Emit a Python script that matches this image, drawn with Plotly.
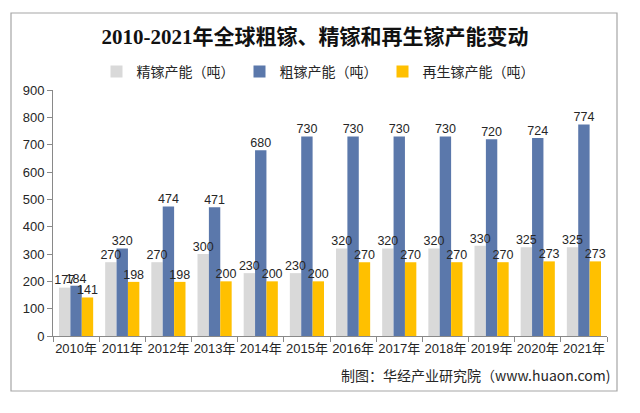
import plotly.graph_objects as go

years = ["2010年", "2011年", "2012年", "2013年", "2014年", "2015年",
         "2016年", "2017年", "2018年", "2019年", "2020年", "2021年"]
refined = [177, 270, 270, 300, 230, 230, 320, 320, 320, 330, 325, 325]
crude = [184, 320, 474, 471, 680, 730, 730, 730, 730, 720, 724, 774]
recycled = [141, 198, 198, 200, 200, 200, 270, 270, 270, 270, 273, 273]

names = ["精镓产能（吨）", "粗镓产能（吨）", "再生镓产能（吨）"]
colors = ["#D9D9D9", "#5B78AB", "#FFC000"]
series = [refined, crude, recycled]

W, H = 640, 413
L, R, T, B = 53, 33, 90, 77
pw, ph = W - L - R, H - T - B

def px(x):
    return (x - L) / pw

def py(y):
    return (H - B - y) / ph

fig = go.Figure()
for i, (n, c, v) in enumerate(zip(names, colors, series)):
    fig.add_trace(go.Bar(
        x=years, y=v, name=n, marker_color=c, marker_line_width=0,
        offsetgroup=str(i), cliponaxis=False,
    ))
for i, v in enumerate(series):
    fig.add_trace(go.Scatter(
        x=years, y=v, mode="text", text=[str(t) for t in v],
        textposition="top center", offsetgroup=str(i), showlegend=False,
        textfont=dict(size=12.5, color="#262626", family="Liberation Sans, Arial"),
        cliponaxis=False, hoverinfo="skip",
    ))

fig.update_layout(
    width=W, height=H,
    margin=dict(l=L, r=R, t=T, b=B),
    paper_bgcolor="white", plot_bgcolor="white",
    barmode="group", scattermode="group", bargap=0.26, bargroupgap=0,
    font=dict(family="Liberation Sans, Noto Sans CJK SC", size=13, color="#262626"),
    title=dict(
        text="<b>2010-2021年全球粗镓、精镓和再生镓产能变动</b>",
        x=315 / W, xanchor="center", xref="container",
        y=1 - 37 / H, yanchor="middle", yref="container",
        font=dict(family="Liberation Serif, Noto Sans CJK SC", size=21, color="#111111"),
    ),
    legend=dict(
        orientation="h", x=px(311), xanchor="center", y=py(72), yanchor="middle",
        font=dict(family="Noto Sans CJK SC", size=14, color="#262626"),
        entrywidth=98, entrywidthmode="pixels", itemwidth=30,
        bgcolor="rgba(0,0,0,0)",
    ),
    showlegend=True,
    xaxis=dict(
        type="category", showline=True, linecolor="#898989", linewidth=1,
        ticks="outside", tickson="boundaries", ticklen=5, tickcolor="#898989",
        showgrid=False, tickangle=0,
        tickfont=dict(size=13, family="Liberation Sans, Noto Sans CJK SC"),
    ),
    yaxis=dict(
        range=[0, 900], dtick=100, showline=True, linecolor="#898989", linewidth=1,
        ticks="outside", ticklen=5, tickcolor="#898989", showgrid=False,
        zeroline=False, tickfont=dict(size=13),
    ),
    shapes=[dict(
        type="rect", xref="paper", yref="paper",
        x0=px(11), x1=px(617), y0=py(391), y1=py(13),
        line=dict(color="#A6A6A6", width=1.2), fillcolor="rgba(0,0,0,0)", layer="below",
    )],
    annotations=[dict(
        text="制图：华经产业研究院（www.huaon.com)",
        xref="paper", yref="paper", x=px(613), y=py(375),
        xanchor="right", yanchor="middle", showarrow=False,
        font=dict(family="Noto Sans CJK SC", size=14, color="#262626"),
    )],
)

fig.write_html("out.html")
